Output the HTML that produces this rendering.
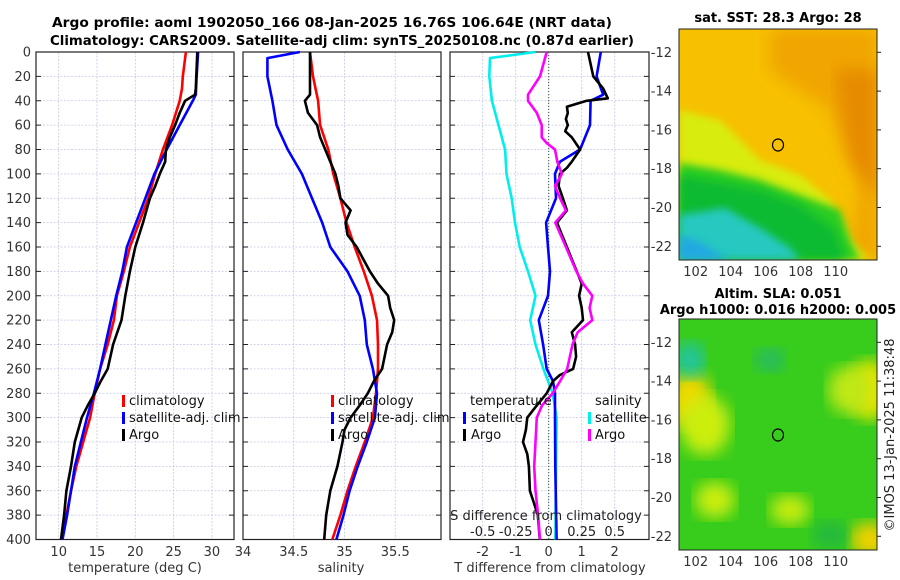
<!DOCTYPE html>
<html><head><meta charset="utf-8"><style>
html,body{margin:0;padding:0;background:#fff;}
svg{display:block;font-family:"DejaVu Sans","Liberation Sans",sans-serif;}
</style></head><body>
<svg id="chart" width="900" height="580" viewBox="0 0 900 580">
<defs>
<filter id="blur4"><feGaussianBlur stdDeviation="4"/></filter>
<filter id="blur8"><feGaussianBlur stdDeviation="8"/></filter>
<clipPath id="clipM1"><rect x="679" y="29" width="198" height="231"/></clipPath>
<clipPath id="clipM2"><rect x="679" y="319" width="198" height="231"/></clipPath>
</defs>
<text x="52" y="27" textLength="560" lengthAdjust="spacingAndGlyphs" font-weight="bold" font-size="13">Argo profile: aoml 1902050_166 08-Jan-2025 16.76S 106.64E (NRT data)</text>
<text x="50" y="45" textLength="584" lengthAdjust="spacingAndGlyphs" font-weight="bold" font-size="13">Climatology: CARS2009. Satellite-adj clim: synTS_20250108.nc (0.87d earlier)</text>
<g id="panels"></g>
<g id="maps">
 <text x="778" y="22" text-anchor="middle" font-weight="bold" font-size="13">sat. SST: 28.3 Argo: 28</text>
 <g clip-path="url(#clipM1)">
  <rect x="679" y="29" width="198" height="231" fill="#f7c000"/>
  <polygon points="770,29 877,29 877,260 850,260 860,180 830,110 770,70" fill="#f0a500" filter="url(#blur8)"/>
  <polygon points="835,70 877,70 877,200 850,160" fill="#e68a00" filter="url(#blur8)"/>
  <polygon points="679,110 720,120 760,160 800,175 830,200 850,240 870,260 679,260" fill="#d8ec10" filter="url(#blur4)"/>
  <polygon points="679,163 720,170 760,180 800,195 840,210 850,240 860,260 679,260" fill="#2ccc20" filter="url(#blur4)"/>
  <polygon points="679,175 760,190 800,205 835,230 845,260 679,260" fill="#10bb30" filter="url(#blur4)"/>
  <polygon points="679,215 700,212 725,208 760,228 790,248 800,260 679,260" fill="#28c8c0" filter="url(#blur4)"/>
  <polygon points="679,235 700,242 720,255 730,260 679,260" fill="#20a8e0" filter="url(#blur4)"/>
 </g>
 <rect x="679" y="29" width="198" height="231" fill="none" stroke="#222"/>
 <ellipse cx="778" cy="145" rx="5.5" ry="6" fill="none" stroke="#000" stroke-width="1.2"/>
 <text x="778" y="298" text-anchor="middle" font-weight="bold" font-size="13">Altim. SLA: 0.051</text>
 <text x="778" y="314" text-anchor="middle" font-weight="bold" font-size="13">Argo h1000: 0.016 h2000: 0.005</text>
 <g clip-path="url(#clipM2)">
  <rect x="679" y="319" width="198" height="231" fill="#38cc1c"/>
  <ellipse cx="690" cy="400" rx="22" ry="28" fill="#f0d800" filter="url(#blur8)"/>
  <ellipse cx="705" cy="425" rx="25" ry="30" fill="#ccee10" filter="url(#blur8)"/>
  <ellipse cx="715" cy="500" rx="20" ry="18" fill="#ccee10" filter="url(#blur8)"/>
  <ellipse cx="870" cy="390" rx="20" ry="30" fill="#e8e400" filter="url(#blur8)"/>
  <ellipse cx="850" cy="390" rx="22" ry="24" fill="#bfe818" filter="url(#blur8)"/>
  <ellipse cx="790" cy="510" rx="20" ry="15" fill="#c8ec10" filter="url(#blur8)"/>
  <ellipse cx="870" cy="540" rx="20" ry="18" fill="#f0d000" filter="url(#blur8)"/>
  <ellipse cx="690" cy="360" rx="15" ry="18" fill="#20c4a0" filter="url(#blur8)"/>
  <ellipse cx="770" cy="360" rx="15" ry="12" fill="#26bb66" filter="url(#blur8)"/>
  <ellipse cx="830" cy="535" rx="18" ry="14" fill="#22b840" filter="url(#blur8)"/>
 </g>
 <rect x="679" y="319" width="198" height="231" fill="none" stroke="#222"/>
 <ellipse cx="778" cy="435" rx="5.5" ry="6" fill="none" stroke="#000" stroke-width="1.2"/>
 <text transform="translate(894,435) rotate(-90)" text-anchor="middle" font-size="13" fill="#222">©IMOS 13-Jan-2025 11:38:48</text>
 <g id="mapticks"></g>
</g>
</svg>
<script>
// ---- data ----
var tClimDepth=[0,20,30,40,60,80,100,120,140,160,180,200,220,240,260,280,300,320,340,360,380,400];
var tClim=[26.6,26.2,26.1,25.8,24.8,23.6,22.6,21.7,20.5,19.3,18.5,17.6,17.2,16.4,15.4,14.7,14.1,13.2,12.3,11.6,11.0,10.4];
var tSatDepth=[0,20,35,40,60,80,100,120,140,160,180,200,220,240,260,280,300,320,340,360,380,400];
var tSat=[28.2,28.0,27.9,27.5,25.8,24.1,22.5,21.3,20.1,18.9,18.3,17.5,16.8,16.1,15.4,14.6,13.7,12.9,12.1,11.6,11.1,10.5];
var tArgoDepth=[0,30,35,40,50,60,70,80,90,100,110,120,140,160,180,200,220,240,260,270,280,290,300,320,340,360,380,400];
var tArgo=[28.1,27.9,27.8,26.5,25.8,25.2,24.5,24.0,23.9,23.2,22.6,21.9,21.0,20.0,19.3,18.7,18.2,17.1,16.4,15.5,14.7,13.8,13.0,12.1,11.6,11.0,10.7,10.3];

var sClimDepth=[0,20,40,60,80,100,120,140,160,180,200,220,240,260,280,300,320,340,360,380,400];
var sClim=[34.66,34.69,34.74,34.76,34.84,34.89,34.96,35.02,35.10,35.19,35.27,35.32,35.33,35.33,35.31,35.28,35.20,35.11,35.03,34.96,34.88];
var sSatDepth=[0,5,20,40,60,80,100,120,140,160,180,200,220,240,260,280,300,320,340,360,380,400];
var sSat=[34.56,34.24,34.24,34.29,34.33,34.44,34.58,34.68,34.78,34.86,35.03,35.15,35.20,35.22,35.28,35.32,35.30,35.22,35.13,35.05,34.99,34.92];
var sArgoDepth=[0,20,35,40,50,60,70,80,90,100,110,120,130,140,150,160,180,190,200,210,220,230,240,260,270,280,290,300,310,320,340,360,380,400];
var sArgo=[34.66,34.66,34.66,34.61,34.64,34.73,34.76,34.81,34.86,34.91,34.94,34.96,35.06,35.01,35.03,35.12,35.25,35.33,35.43,35.45,35.49,35.47,35.42,35.37,35.29,35.23,35.15,35.06,35.00,34.98,34.93,34.86,34.82,34.80];

var dTSatDepth=[0,20,35,40,60,80,90,100,120,140,160,180,200,220,240,260,270,280,300,340,400];
var dTSat=[1.58,1.45,1.65,1.27,1.25,0.95,0.34,0.19,0.22,-0.08,-0.02,0.04,-0.02,-0.30,-0.17,-0.06,0.13,0.19,0.19,0.2,0.24];
var dTArgoDepth=[0,20,30,38,40,45,50,55,60,65,70,80,90,95,100,110,120,130,140,150,160,170,180,190,200,210,220,230,240,250,260,265,270,280,290,300,310,320,330,340,360,370,380,400];
var dTArgo=[1.19,1.35,1.65,1.79,1.15,0.55,0.58,0.52,0.58,0.5,0.70,0.95,0.70,0.55,0.34,0.3,0.43,0.55,0.25,0.4,0.55,0.70,0.85,1.00,0.92,1.0,1.04,0.70,0.80,0.83,0.74,0.34,0.13,-0.06,-0.36,-0.65,-0.69,-0.78,-0.65,-0.60,-0.57,-0.45,-0.33,-0.27];
var dSSatDepth=[0,5,20,40,60,80,100,120,140,160,180,200,220,240,260,280,300,340,400];
var dSSat=[-0.10,-0.445,-0.45,-0.43,-0.38,-0.33,-0.32,-0.28,-0.255,-0.22,-0.157,-0.10,-0.14,-0.10,-0.04,0.03,0.06,0.055,0.05];
var dSArgoDepth=[0,20,35,40,50,60,70,75,80,90,100,110,120,130,140,160,180,190,200,210,220,230,240,260,270,280,290,300,320,340,360,380,400];
var dSArgo=[-0.015,-0.066,-0.157,-0.157,-0.09,-0.053,-0.053,-0.013,0.048,0.065,0.10,0.048,0.086,0.13,0.05,0.13,0.21,0.26,0.33,0.31,0.33,0.22,0.18,0.14,0.086,0.03,-0.05,-0.09,-0.10,-0.11,-0.10,-0.08,-0.066];

var depthTicks=[0,20,40,60,80,100,120,140,160,180,200,220,240,260,280,300,320,340,360,380,400];
var tTicks=[10,15,20,25,30];
var sTicks=[34,34.5,35,35.5];
var sTickLabels=["34","34.5","35","35.5"];
var dTTicks=[-2,-1,0,1,2];
var dSTicks=[-0.5,-0.25,0,0.25,0.5];
var dSTickLabels=["-0.5","-0.25","0","0.25","0.5"];
var latTicks=[-12,-14,-16,-18,-20,-22];
var lonTicks=[102,104,106,108,110];

// ---- axes ----
var NS="http://www.w3.org/2000/svg";
var TOP=52,BOT=539.5;
function yD(d){return TOP+d*(BOT-TOP)/400;}
var P1={x0:36,x1:234},P2={x0:243,x1:441},P3={x0:450,x1:649};
function xT(v){return 58.7+(v-10)*7.66;}
function xS(v){return 243+(v-34)*101.5;}
function xDT(v){return 548.7+v*33;}
function xDS(v){return 548.7+v*132;}
function mk(tag,attrs,parent){var e=document.createElementNS(NS,tag);for(var k in attrs)e.setAttribute(k,attrs[k]);parent.appendChild(e);return e;}
var root=document.getElementById('panels');

function panel(P,name,xt,xf,xlabels){
  var g=mk('g',{},root);
  
  
  depthTicks.forEach(function(d){
    var l=mk('line',{x1:P.x0,x2:P.x1,y1:yD(d),y2:yD(d),stroke:'#c4c8e8','stroke-width':0.8,'stroke-dasharray':'2,1.5'},g);
    
    
    mk('line',{x1:P.x0,x2:P.x0+5,y1:yD(d),y2:yD(d),stroke:'#222'},g);
    mk('line',{x1:P.x1,x2:P.x1-5,y1:yD(d),y2:yD(d),stroke:'#222'},g);
  });
  xt.forEach(function(v,i){
    var x=xf(v);
    var l=mk('line',{x1:x,x2:x,y1:TOP,y2:BOT,stroke:'#c4c8e8','stroke-width':0.8,'stroke-dasharray':'2,1.5'},g);
    
    
    var t=mk('text',{x:x,y:556,'text-anchor':'middle','font-size':13,fill:'#333'},g);
    t.textContent=xlabels?xlabels[i]:String(v);
    
    
  });
  var f=mk('rect',{x:P.x0,y:TOP,width:P.x1-P.x0,height:BOT-TOP,fill:'none',stroke:'#222','stroke-width':1.2},g);
  
  
  return g;
}
function series(g,depths,vals,xf,color,name){
  var pts=depths.map(function(d,i){return xf(vals[i]).toFixed(1)+','+yD(d).toFixed(1);}).join(' ');
  var p=mk('polyline',{points:pts,fill:'none',stroke:color,'stroke-width':2.6,'stroke-linejoin':'round'},g);
  
  
}
function txt(g,x,y,s,name,extra){
  var t=mk('text',Object.assign({x:x,y:y,'font-size':13,fill:'#111'},extra||{}),g);
  t.textContent=s;
  
  
  return t;
}
function legMark(g,x,y,color){
  var r=mk('rect',{x:x,y:y-11,width:3,height:12,fill:color},g);
  
  
}

depthTicks.forEach(function(d){
  var t=mk('text',{x:31,y:yD(d)+4.5,'text-anchor':'end','font-size':13,fill:'#333'},root);
  t.textContent=String(d);
  
  
});

var g1=panel(P1,'temperature-panel',tTicks,xT);
series(g1,tClimDepth,tClim,xT,'#ff0000','temp-climatology-line');
series(g1,tSatDepth,tSat,xT,'#0000ff','temp-satellite-line');
series(g1,tArgoDepth,tArgo,xT,'#000000','temp-argo-line');
txt(g1,135,572,'temperature (deg C)','x-axis-title',{'text-anchor':'middle',fill:'#333'});
legMark(g1,122,406,'#ff0000');txt(g1,129,405,'climatology','legend-climatology');
legMark(g1,122,423,'#0000ff');txt(g1,129,422,'satellite-adj. clim','legend-satellite');
legMark(g1,122,440,'#000000');txt(g1,129,439,'Argo','legend-argo');

var g2=panel(P2,'salinity-panel',sTicks,xS,sTickLabels);
series(g2,sClimDepth,sClim,xS,'#ff0000','sal-climatology-line');
series(g2,sSatDepth,sSat,xS,'#0000ff','sal-satellite-line');
series(g2,sArgoDepth,sArgo,xS,'#000000','sal-argo-line');
txt(g2,341,572,'salinity','x-axis-title',{'text-anchor':'middle',fill:'#333'});
legMark(g2,331,406,'#ff0000');txt(g2,338,405,'climatology','legend-climatology');
legMark(g2,331,423,'#0000ff');txt(g2,338,422,'satellite-adj. clim','legend-satellite');
legMark(g2,331,440,'#000000');txt(g2,338,439,'Argo','legend-argo');

var g3=panel(P3,'difference-panel',dTTicks,xDT);
var zl=mk('line',{x1:xDT(0),x2:xDT(0),y1:TOP,y2:BOT,stroke:'#335533','stroke-width':1,'stroke-dasharray':'1,2'},g3);


series(g3,dSSatDepth,dSSat,xDS,'#00eeee','sal-diff-satellite-line');
series(g3,dTSatDepth,dTSat,xDT,'#0000ff','temp-diff-satellite-line');
series(g3,dTArgoDepth,dTArgo,xDT,'#000000','temp-diff-argo-line');
series(g3,dSArgoDepth,dSArgo,xDS,'#ff00ff','sal-diff-argo-line');
txt(g3,550,572,'T difference from climatology','x-axis-title',{'text-anchor':'middle',fill:'#333'});
txt(g3,546,520,'S difference from climatology','s-axis-title',{'text-anchor':'middle',fill:'#222'});
dSTicks.forEach(function(v,i){
  var t=mk('text',{x:xDS(v),y:536,'text-anchor':'middle','font-size':13,fill:'#222'},g3);
  t.textContent=dSTickLabels[i];
  
  
});
txt(g3,470,405,'temperature','legend-temperature-header');
legMark(g3,463,423,'#0000ff');txt(g3,471,422,'satellite','legend-temp-satellite');
legMark(g3,463,440,'#000000');txt(g3,471,439,'Argo','legend-temp-argo');
txt(g3,595,405,'salinity','legend-salinity-header');
legMark(g3,588,423,'#00eeee');txt(g3,595,422,'satellite','legend-sal-satellite');
legMark(g3,588,440,'#ff00ff');txt(g3,595,439,'Argo','legend-sal-argo');

var mt=document.getElementById('mapticks');
function lonX(v){return 695.7+(v-102)*17.5;}
[[29,260,52.3],[319,550,342.3]].forEach(function(m){
  latTicks.forEach(function(v){
    var y=m[2]+(-12-v)*19.4;
    var t=mk('text',{x:672,y:y+4.5,'text-anchor':'end','font-size':13,fill:'#333'},mt);
    t.textContent=String(v);
    
    
    mk('line',{x1:877,x2:881,y1:y,y2:y,stroke:'#222'},mt);
  });
  lonTicks.forEach(function(v){
    var t=mk('text',{x:lonX(v),y:m[1]+16,'text-anchor':'middle','font-size':13,fill:'#333'},mt);
    t.textContent=String(v);
    
    
  });
});
</script>
</body></html>
